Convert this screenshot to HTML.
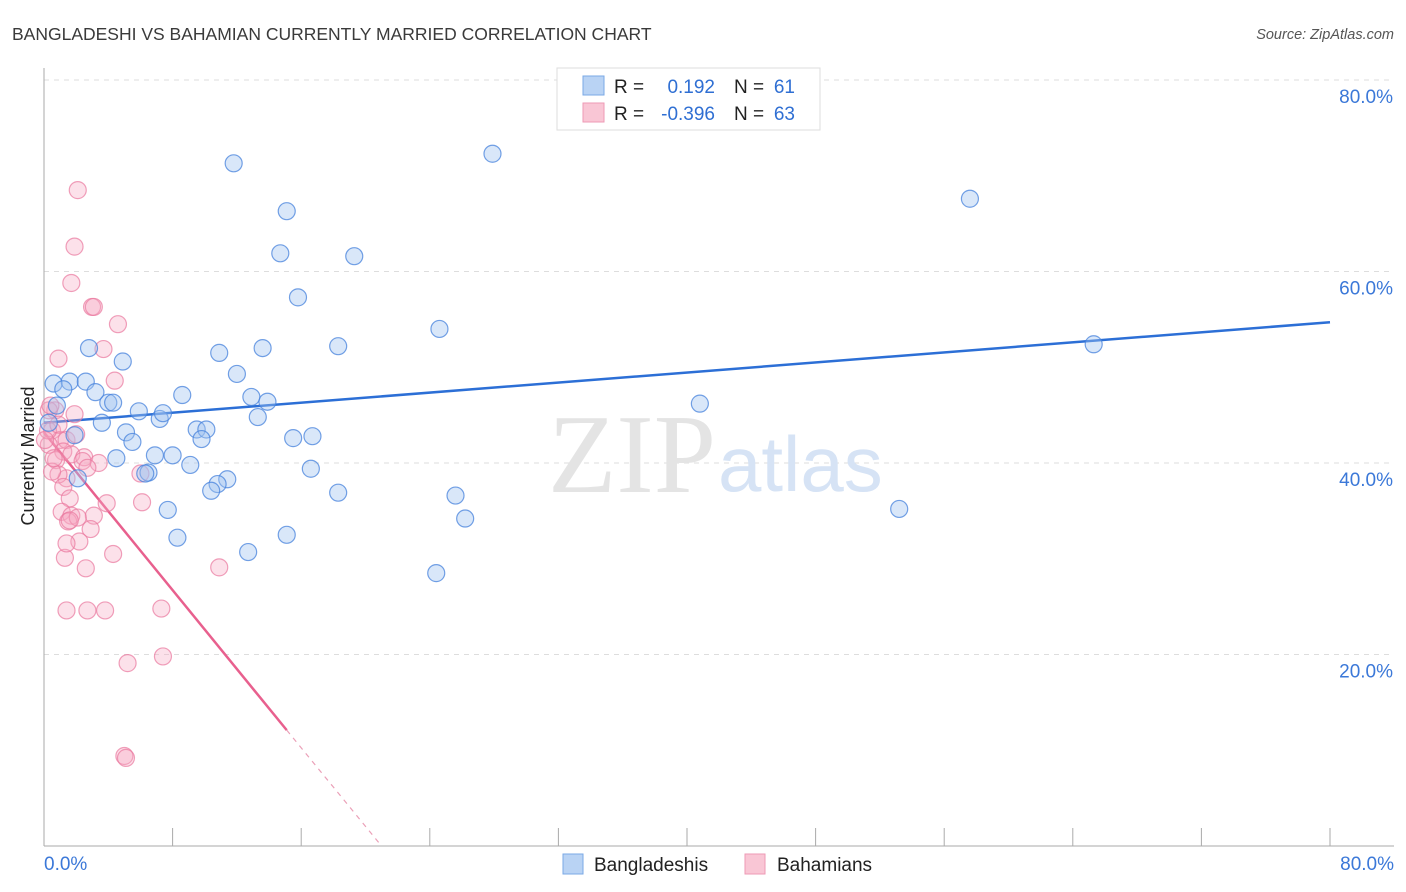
<!DOCTYPE html>
<html><head><meta charset="utf-8"><style>
body{margin:0;background:#fff;font-family:"Liberation Sans",sans-serif;}
svg{display:block}
</style></head><body>
<svg id="chart" width="1406" height="892">
<text x="12" y="40" font-size="17.5" fill="#3a3a3a">BANGLADESHI VS BAHAMIAN CURRENTLY MARRIED CORRELATION CHART</text>
<text x="1394" y="39" font-size="14.5" fill="#555" text-anchor="end" font-style="italic">Source: ZipAtlas.com</text>
<text x="34" y="456" font-size="18" fill="#222" text-anchor="middle" transform="rotate(-90 34 456)">Currently Married</text>
<g id="grid"></g>
<text x="716" y="492" font-size="112" font-family="Liberation Serif,serif" fill="#e4e4e4" text-anchor="end">ZIP</text>
<text x="718" y="491" font-size="78" fill="#d6e3f5">atlas</text>
<g id="lines"></g>
<g id="points"></g>
<g>
<rect x="557" y="68" width="263" height="62" fill="#fff" stroke="#ddd"/>
<rect x="583" y="76" width="21" height="19" fill="#b9d3f4" stroke="#7aa8e6"/>
<rect x="583" y="103" width="21" height="19" fill="#f9c6d5" stroke="#ee9ab5"/>
<text x="614" y="93" font-size="19" fill="#222">R = </text><text x="715" y="93" font-size="19" fill="#2f6fd3" text-anchor="end">0.192</text>
<text x="734" y="93" font-size="19" fill="#222">N = </text><text x="795" y="93" font-size="19" fill="#2f6fd3" text-anchor="end">61</text>
<text x="614" y="120" font-size="19" fill="#222">R = </text><text x="715" y="120" font-size="19" fill="#2f6fd3" text-anchor="end">-0.396</text>
<text x="734" y="120" font-size="19" fill="#222">N = </text><text x="795" y="120" font-size="19" fill="#2f6fd3" text-anchor="end">63</text>
</g>
<g>
<rect x="563" y="854" width="20" height="20" fill="#b9d3f4" stroke="#7aa8e6"/>
<text x="594" y="871" font-size="19" fill="#222">Bangladeshis</text>
<rect x="745" y="854" width="20" height="20" fill="#f9c6d5" stroke="#ee9ab5"/>
<text x="777" y="871" font-size="19" fill="#222">Bahamians</text>
</g>
</svg>
<script>
const yTicks=[20,40,60,80];
const xTickLabels=["0.0%","80.0%"];
const blueX=[11.8,27.9,57.6,15.1,14.7,19.3,15.8,24.6,65.3,2.8,10.9,13.6,18.3,4.9,12.0,0.6,1.6,2.6,1.2,3.2,8.6,12.9,4.0,4.3,13.9,40.8,0.8,5.9,7.2,7.4,3.6,13.3,9.5,10.1,5.1,0.3,15.5,16.7,9.8,5.5,6.9,8.0,4.5,9.1,16.6,6.5,6.3,2.1,11.4,10.8,10.4,18.3,25.6,7.7,53.2,26.2,8.3,15.1,12.7,24.4,1.9];
const blueY=[71.3,72.3,67.6,66.3,61.9,61.6,57.3,54.0,52.4,52.0,51.5,52.0,52.2,50.6,49.3,48.3,48.5,48.5,47.7,47.4,47.1,46.9,46.3,46.3,46.4,46.2,46.0,45.4,44.6,45.2,44.2,44.8,43.5,43.5,43.2,44.2,42.6,42.8,42.5,42.2,40.8,40.8,40.5,39.8,39.4,39.0,38.9,38.4,38.3,37.8,37.1,36.9,36.6,35.1,35.2,34.2,32.2,32.5,30.7,28.5,42.9];
const pinkX=[2.1,1.9,1.7,2.99,3.1,4.6,3.7,0.9,4.4,0.7,1.9,0.3,0.5,1.0,1.4,2.0,0.3,1.2,1.7,2.5,2.4,3.4,0.75,2.7,1.4,0.9,6.0,0.5,1.2,1.6,3.9,6.1,1.1,1.7,1.5,3.1,2.1,2.9,2.2,4.3,1.3,2.6,10.9,1.4,2.7,3.8,7.3,7.4,5.2,5.0,5.1,1.6,0.25,0.9,0.06,1.4,0.4,0.6];
const pinkY=[68.5,62.6,58.8,56.3,56.3,54.5,51.9,50.9,48.6,45.5,45.1,45.5,43.4,42.4,42.4,43.0,41.9,41.2,40.9,40.6,40.2,40.0,40.3,39.5,38.4,38.8,38.9,39.1,37.5,36.3,35.8,35.9,34.9,34.5,33.9,34.5,34.3,33.1,31.8,30.5,30.1,29.0,29.1,24.6,24.6,24.6,24.8,19.8,19.1,9.4,9.2,34.0,43.4,44.0,42.4,31.6,46.0,40.5];
const blueLine=[[0,44.2],[80,54.7]];
const pinkLine=[[0,43.2],[15.1,12.1]];
const pinkDash=[[15.1,12.1],[21,0]];
const NS="http://www.w3.org/2000/svg";
const X0=44,X1=1330,Y0=846,Ytop=80;
const sx=v=>X0+(X1-X0)*v/80;
const sy=v=>Y0-(Y0-Ytop)*v/80;
function mk(t,a,p){const e=document.createElementNS(NS,t);for(const k in a)e.setAttribute(k,a[k]);p.appendChild(e);return e;}
const grid=document.getElementById('grid');
yTicks.forEach(t=>{
 const l=mk('line',{x1:X0,x2:1394,y1:sy(t),y2:sy(t),stroke:'#ddd','stroke-dasharray':'5,5'},grid);
 
 
 const tx=mk('text',{x:1393,y:sy(t)+23,'font-size':19,fill:'#3b78d8','text-anchor':'end'},grid);
 tx.textContent=t.toFixed(1)+'%';
 
 
});
const ax=mk('line',{x1:X0,x2:X0,y1:68,y2:Y0,stroke:'#aaa'},grid);


const bx=mk('line',{x1:X0,x2:1394,y1:Y0,y2:Y0,stroke:'#aaa'},grid);


for(let i=0;i<=10;i++){
 const t=mk('line',{x1:sx(i*8),x2:sx(i*8),y1:828,y2:Y0,stroke:'#aaa'},grid);
 
 
}
[[0,'start',44],[80,'end',1394]].forEach((d,i)=>{
 const t=mk('text',{x:d[2],y:870,'font-size':19,fill:'#3b78d8','text-anchor':d[1]},grid);
 t.textContent=xTickLabels[i];
 
 
});
const pts=document.getElementById('points');
function dots(xs,ys,fill,stroke,name){
 xs.forEach((x,i)=>{
  const c=mk('circle',{cx:sx(x),cy:sy(ys[i]),r:8.5,fill:fill,stroke:stroke,'stroke-width':1.2},pts);
  
  
 });
}
dots(pinkX,pinkY,'rgba(246,170,194,0.35)','rgba(234,120,158,0.7)','bahamian-point');
dots(blueX,blueY,'rgba(160,196,240,0.4)','rgba(70,130,220,0.75)','bangladeshi-point');
const lines=document.getElementById('lines');
function ln(a,attrs,name){
 const l=mk('line',Object.assign({x1:sx(a[0][0]),y1:sy(a[0][1]),x2:sx(a[1][0]),y2:sy(a[1][1])},attrs),lines);
 
 
}
ln(blueLine,{stroke:'#2c6fd6','stroke-width':2.5},'bangladeshi-trend-line');
ln(pinkLine,{stroke:'#e8608e','stroke-width':2.5},'bahamian-trend-line');
ln(pinkDash,{stroke:'#eba0b8','stroke-width':1.2,'stroke-dasharray':'5,5'},'bahamian-trend-extension');
</script>
</body></html>
